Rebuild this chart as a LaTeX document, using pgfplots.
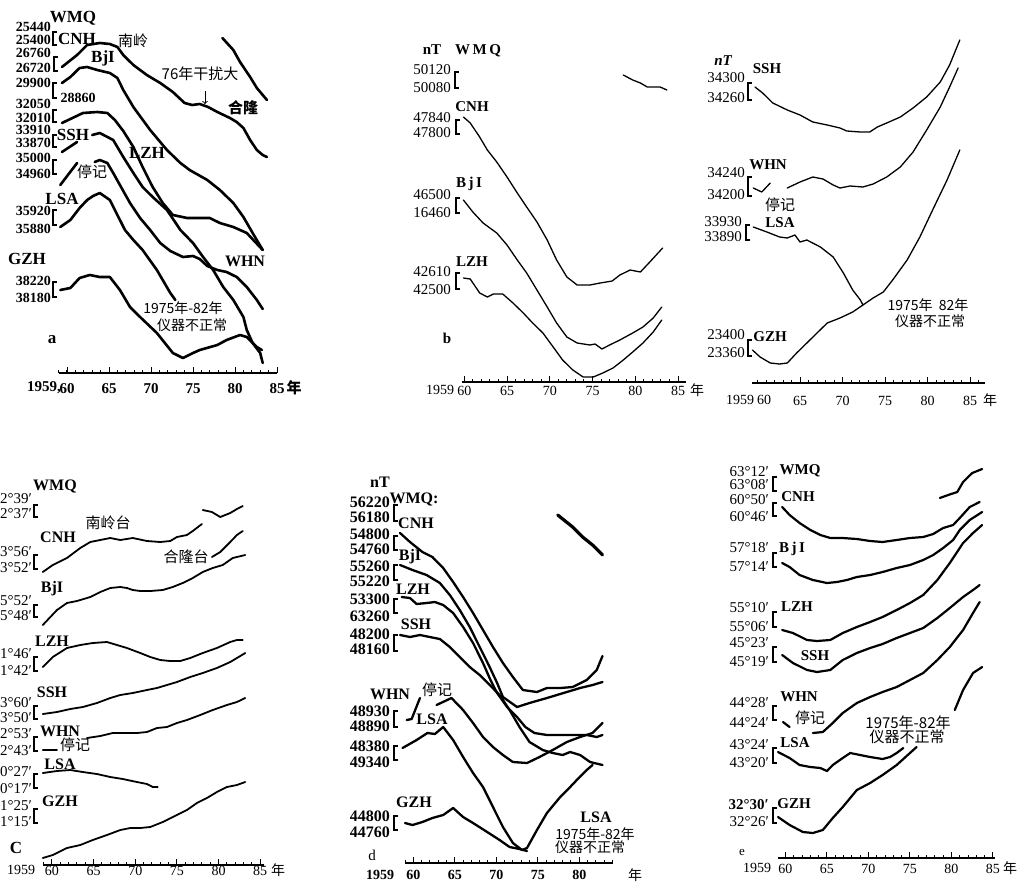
\documentclass[border=0pt]{standalone}
\usepackage{pgfplots}
\pgfplotsset{compat=1.18}
\usepackage{fontspec}
\setmainfont{Liberation Serif}
\newfontfamily\cjk{Noto Sans CJK SC}
\newcommand\fs[1]{\fontsize{#1}{#1}\selectfont}
% bracket beside a pair of scale values
\newcommand\B[3]{\draw[line width=1.1pt] (#1+3.5,#2) -- (#1,#2) -- (#1,#3) -- (#1+3.5,#3);}
\newcommand\V[3]{\node[anchor=east] at (#1,#2) {#3};}

% every panel: x = year, y = position of the curve in the panel (arbitrary offset units, downwards)
\pgfplotsset{
  panel/.style={
    scale only axis, clip=false, enlargelimits=false,
    axis x line*=bottom, axis y line=none,
    y filter/.expression={-y},
    xtick align=inside,
    major tick length=6pt, minor tick length=3.5pt,
    xtick={1965,1970,1975,1980,1985},
    xticklabels={65,70,75,80,85},
    minor xtick={1959,1960,...,1986},
    axis line style={line width=1.2pt},
    every tick/.append style={line width=1pt, black},
    xticklabel style={font=\fs{14}, inner sep=1pt},
    cycle list={{black, solid}},
    every axis plot/.append style={no marks, line join=round, line cap=round},
  },
}

\begin{document}
\begin{tikzpicture}
\useasboundingbox (0,0) rectangle (1024pt,-886pt);

%% ---------------- panel a ----------------
\begin{axis}[panel, at={(58.6pt,-373pt)}, width=218.4pt, height=373pt,
  xmin=1959, xmax=1985, ymin=-373, ymax=0,
  xtick={1960,1965,...,1985}, xticklabels={60,65,70,75,80,85},
  xticklabel style={font=\fs{15}\bfseries, yshift=-9pt},
  every axis plot/.append style={line width=2.6pt}]
\addplot coordinates {(1978.5,38)(1979.8,50)(1980.6,62)(1981.8,77)(1982.6,88)(1983.8,100)};
\addplot coordinates {(1959.4,67)(1961.2,55)(1962.4,45)(1963.9,43)(1965.1,44)(1966.0,47)(1966.7,55)(1967.9,65)(1969.5,75)(1971.1,83)(1972.6,92)(1974.0,103)(1974.9,105)(1975.8,104)(1976.8,107)(1977.9,112)(1979.4,118)(1980.2,122)(1981.0,128)(1981.8,140)(1982.6,150)(1983.3,155)(1983.8,157)};
\addplot coordinates {(1959.4,83)(1960.4,77)(1961.5,68)(1962.4,67)(1963.6,70)(1965.1,73)(1966.0,78)(1966.7,90)(1967.9,107)(1969.9,130)(1971.9,150)(1973.5,163)(1974.6,170)(1976.7,180)(1978.2,190)(1979.8,203)(1981.0,217)(1982.1,233)(1983.3,250)};
\addplot coordinates {(1959.4,123)(1961.9,113)(1963.6,112)(1964.8,113)(1965.7,120)(1966.7,131)(1967.9,147)(1969.0,167)(1970.2,187)(1971.4,203)(1972.6,215)(1974.3,218)(1977.0,218)(1978.2,223)(1979.8,227)(1981.4,233)(1983.3,250)};
\addplot coordinates {(1959.4,152)(1961.2,142)};
\addplot coordinates {(1963.0,135)(1963.9,133)(1965.5,140)(1966.7,157)(1967.9,173)(1969.0,187)(1970.2,197)(1971.9,210)(1973.5,230)(1975.0,243)(1976.2,257)(1977.4,270)(1978.6,287)(1979.8,300)(1981.0,317)(1981.4,330)(1982.1,343)(1983.0,353)(1983.3,363)};
\addplot coordinates {(1959.2,185)(1961.2,163)};
\addplot coordinates {(1963.3,162)(1963.9,160)(1964.8,163)(1965.5,173)(1966.3,185)(1967.5,203)(1968.7,218)(1969.9,230)(1971.1,243)(1972.3,251)(1973.8,257)(1975.0,256)(1975.8,259)(1976.7,266)(1977.9,270)(1979.0,272)(1980.2,277)(1981.4,287)(1982.6,300)(1983.3,309)};
\addplot coordinates {(1959.2,227)(1960.4,220)(1961.5,208)(1962.4,200)(1963.1,196)(1963.9,193)(1965.1,200)(1966.3,220)(1966.9,230)(1967.9,240)(1969.0,250)(1970.7,270)(1972.3,293)(1972.9,300)};
\addplot coordinates {(1959.2,290)(1960.4,288)(1961.5,278)(1962.7,275)(1963.9,277)(1965.1,277)(1966.3,290)(1967.5,307)(1968.7,317)(1970.7,333)(1972.6,353)(1973.8,358)(1975.0,353)(1975.8,350)(1977.9,345)(1979.0,340)(1980.6,335)(1981.4,337)(1982.6,347)(1983.2,350)};
\end{axis}

%% ---------------- panel b, left ----------------
\begin{axis}[panel, at={(461.7pt,-382pt)}, width=224pt, height=382pt,
  xmin=1959.7, xmax=1985.9, ymin=-382, ymax=0,
  xtick={1960,1965,...,1985}, xticklabels={60,65,70,75,80,85},
  xticklabel style={yshift=-3pt},
  every axis plot/.append style={line width=1.3pt}]
\addplot coordinates {(1978.6,75)(1979.7,80)(1980.6,83)(1981.4,87)(1982.1,87)(1982.9,87)(1983.7,90)};
\addplot coordinates {(1959.9,117)(1960.7,123)(1961.8,137)(1962.7,150)(1963.8,162)(1965.0,177)(1966.2,193)(1967.3,207)(1968.5,222)(1969.7,240)(1970.8,260)(1972.0,277)(1973.2,285)(1974.7,285)(1975.9,283)(1977.3,281)(1978.2,275)(1979.4,270)(1980.6,272)(1981.7,262)(1983.2,248)};
\addplot coordinates {(1959.9,200)(1961.0,212)(1962.2,223)(1963.8,233)(1965.0,245)(1966.2,260)(1967.3,273)(1968.5,290)(1969.7,307)(1970.8,323)(1972.0,337)(1973.2,343)(1974.7,345)(1975.3,344)(1976.1,349)(1977.0,345)(1978.2,340)(1979.7,333)(1980.9,327)(1982.1,318)(1983.1,307)};
\addplot coordinates {(1959.9,278)(1960.7,279)(1961.8,293)(1962.7,297)(1963.4,294)(1964.5,294)(1965.7,303)(1966.9,313)(1968.0,323)(1969.2,333)(1970.4,347)(1971.5,360)(1972.7,370)(1973.9,377)(1975.1,377)(1976.2,373)(1977.4,368)(1978.6,360)(1979.7,352)(1980.9,343)(1982.1,332)(1983.1,320)};
\end{axis}

%% ---------------- panel b, right ----------------
\begin{axis}[panel, at={(752pt,-383pt)}, width=233.3pt, height=383pt,
  xmin=1959.35, xmax=1986.8, ymin=-383, ymax=0,
  xticklabel style={yshift=-12pt},
  every axis plot/.append style={line width=1.3pt}]
\addplot coordinates {(1959.7,87)(1960.6,93)(1961.8,103)(1963.5,110)(1965.0,115)(1966.5,122)(1968.2,125)(1969.7,128)(1970.5,131)(1972.1,132)(1973.2,132)(1974.1,127)(1975.2,123)(1976.8,117)(1978.3,108)(1979.9,97)(1981.5,82)(1982.6,65)(1983.8,40)};
\addplot coordinates {(1959.5,188)(1960.5,192)(1961.5,183)};
\addplot coordinates {(1963.5,188)(1965.0,182)(1966.5,177)(1967.7,179)(1968.9,185)(1969.7,188)(1970.9,186)(1972.4,187)(1973.6,184)(1975.2,177)(1976.8,167)(1978.3,152)(1979.9,130)(1981.5,107)(1982.6,87)(1983.6,68)};
\addplot coordinates {(1959.5,227)(1961.1,232)(1962.6,237)(1963.5,238)(1964.4,235)(1965.0,242)(1965.8,240)(1967.4,247)(1968.9,257)(1970.1,273)(1971.2,290)(1972.1,300)(1972.4,305)};
\addplot coordinates {(1959.4,350)(1960.3,357)(1961.5,363)(1962.6,364)(1963.5,363)(1964.6,353)(1965.8,343)(1967.0,333)(1968.2,323)(1969.7,318)(1971.2,312)(1972.4,305)(1973.6,298)(1974.8,292)(1975.9,280)(1977.6,260)(1979.1,237)(1980.6,210)(1982.3,180)(1983.8,150)};
\end{axis}

%% ---------------- panel c ----------------
\begin{axis}[panel, at={(42.8pt,-865pt)}, width=221.6pt, height=435pt,
  xmin=1958.9, xmax=1985.5, ymin=-865, ymax=-430,
  xtick={1960,1965,...,1985}, xticklabels={60,65,70,75,80,85},
  every axis plot/.append style={line width=1.8pt}]
\addplot coordinates {(1978.1,510)(1979.2,512)(1980.2,517)(1981.4,513)(1982.2,509)(1982.9,506)};
\addplot coordinates {(1958.9,572)(1960.1,565)(1961.8,558)(1963.4,548)(1964.6,542)(1965.8,540)(1967.0,538)(1968.2,540)(1969.7,538)(1971.4,541)(1973.0,542)(1974.2,541)(1975.0,537)(1976.2,535)(1976.9,531)(1978.0,524)};
\addplot coordinates {(1979.2,557)(1980.2,552)(1981.4,542)(1982.2,535)(1982.9,531)};
\addplot coordinates {(1958.9,625)(1960.6,610)(1961.8,603)(1963.0,601)(1964.6,597)(1965.8,592)(1967.0,588)(1968.2,587)(1969.0,588)(1969.7,590)(1970.6,591)(1971.8,591)(1973.3,590)(1974.5,587)(1975.7,583)(1976.9,578)(1978.1,572)(1979.3,568)(1980.5,565)(1981.7,558)(1983.2,555)};
\addplot coordinates {(1958.9,667)(1960.1,657)(1961.8,648)(1963.4,645)(1964.9,643)(1966.6,642)(1967.8,645)(1969.0,648)(1970.6,653)(1971.8,657)(1973.0,660)(1974.2,661)(1975.4,661)(1976.6,658)(1978.1,653)(1979.8,648)(1981.4,642)(1982.2,640)(1982.9,640)};
\addplot coordinates {(1958.9,714)(1960.6,712)(1962.2,709)(1963.7,707)(1965.4,703)(1967.0,698)(1968.2,695)(1969.7,693)(1971.4,690)(1972.6,688)(1973.8,685)(1975.0,682)(1976.6,677)(1978.1,673)(1979.8,668)(1981.4,662)(1983.2,653)};
\addplot coordinates {(1958.9,750)(1960.6,750)};
\addplot coordinates {(1964.2,738)(1965.8,736)(1967.3,733)(1969.0,733)(1970.2,733)(1971.4,732)(1972.6,728)(1973.8,727)(1975.0,723)(1976.2,720)(1977.8,715)(1979.3,710)(1981.0,705)(1982.2,702)(1983.2,698)};
\addplot coordinates {(1958.9,773)(1960.6,771)(1962.2,770)(1963.7,772)(1965.4,774)(1967.0,777)(1968.5,779)(1970.2,782)(1971.4,784)(1972.1,787)(1972.7,787)};
\addplot coordinates {(1958.9,858)(1960.1,855)(1961.8,848)(1963.4,845)(1964.9,840)(1966.6,835)(1968.2,830)(1969.4,828)(1970.6,828)(1971.8,827)(1973.3,822)(1975.0,815)(1976.2,810)(1977.4,803)(1978.6,798)(1979.8,792)(1981.0,787)(1982.2,785)(1983.2,782)};
\end{axis}

%% ---------------- panel d ----------------
\begin{axis}[panel, at={(405pt,-863pt)}, width=208.3pt, height=433pt,
  xmin=1959, xmax=1984.1, ymin=-863, ymax=-430,
  xtick={1960,1965,...,1985}, xticklabels={60,65,70,75,80,85},
  xticklabel style={font=\fs{14}\bfseries, yshift=-6pt},
  every axis plot/.append style={line width=2.3pt}]
\addplot[line width=3.2pt] coordinates {(1977.4,515)(1979.2,527)(1980.4,537)(1981.6,545)(1982.8,555)};
\addplot coordinates {(1958.4,533)(1959.6,542)(1961.1,552)(1962.3,557)(1963.6,568)(1964.8,582)(1966.0,597)(1967.2,613)(1968.4,630)(1969.6,647)(1970.8,663)(1972.0,677)(1973.2,690)(1974.9,692)(1976.1,688)(1977.7,688)(1979.2,687)(1980.9,680)(1982.1,670)(1982.8,656)};
\addplot coordinates {(1958.4,565)(1959.9,570)(1961.6,575)(1963.2,583)(1964.4,595)(1965.6,610)(1966.8,627)(1968.0,647)(1969.2,667)(1970.1,683)(1970.8,697)(1972.5,707)(1974.0,703)(1976.1,698)(1978.5,692)(1980.1,688)(1981.6,685)(1982.8,682)};
\addplot coordinates {(1958.6,597)(1959.6,598)(1960.4,604)(1961.6,603)(1962.6,602)(1963.6,605)(1964.8,613)(1966.0,627)(1967.2,643)(1968.4,663)(1969.3,680)(1970.1,693)(1971.3,707)(1972.5,717)(1973.5,727)(1974.6,733)(1976.1,735)(1977.7,735)(1979.2,735)(1980.9,735)(1982.1,737)(1982.8,735)};
\addplot coordinates {(1958.4,635)(1959.6,637)(1960.8,635)(1962.0,637)(1963.2,639)(1964.4,647)(1965.6,657)(1966.8,667)(1968.0,675)(1969.2,685)(1970.4,695)(1971.6,710)(1972.8,727)(1974.0,742)(1975.6,750)(1976.8,753)(1978.0,755)(1978.9,752)(1980.1,755)(1981.3,762)(1982.8,765)};
\addplot coordinates {(1959.2,720)(1959.8,719)(1960.8,698)};
\addplot coordinates {(1962.8,705)(1964.6,698)(1966.0,710)(1967.2,723)(1968.4,737)(1969.6,747)(1970.8,755)(1972.0,762)(1973.7,763)(1975.2,757)(1976.8,750)(1978.5,742)(1980.1,737)(1981.6,733)(1982.8,723)};
\addplot coordinates {(1958.7,748)(1960.4,740)(1961.7,733)(1962.6,734)(1963.6,727)(1964.8,740)(1966.0,757)(1967.2,773)(1968.4,787)(1969.6,807)(1970.8,827)(1972.0,843)(1973.1,850)(1973.7,848)(1974.9,830)(1976.1,813)(1977.7,797)(1978.9,787)(1979.7,780)(1980.9,770)(1981.6,765)};
\addplot coordinates {(1959.0,823)(1959.9,825)(1961.1,822)(1962.3,818)(1963.6,815)(1964.8,808)(1966.0,817)(1967.2,823)(1968.9,832)(1970.4,840)(1971.6,847)(1972.8,849)(1973.7,851)};
\end{axis}

%% ---------------- panel e ----------------
\begin{axis}[panel, at={(778pt,-858pt)}, width=216.6pt, height=428pt,
  xmin=1959.1, xmax=1985.2, ymin=-858, ymax=-430,
  xtick={1960,1965,...,1985}, xticklabels={60,65,70,75,80,85},
  xticklabel style={yshift=-5pt},
  every axis plot/.append style={line width=2.2pt}]
\addplot coordinates {(1978.6,498)(1979.6,495)(1980.7,492)(1981.4,482)(1982.5,473)(1983.7,469)};
\addplot coordinates {(1959.6,507)(1960.5,515)(1961.7,523)(1963.0,530)(1964.2,535)(1965.4,538)(1966.9,538)(1968.6,539)(1970.2,541)(1971.7,542)(1973.4,540)(1975.0,538)(1976.6,537)(1977.8,534)(1979.0,528)(1980.2,525)(1981.0,518)(1982.2,507)(1983.4,502)};
\addplot coordinates {(1959.6,563)(1960.5,567)(1961.7,575)(1963.3,580)(1965.0,583)(1966.2,582)(1967.4,580)(1968.6,577)(1970.2,575)(1971.7,572)(1973.4,568)(1975.0,565)(1976.6,560)(1977.8,555)(1979.0,548)(1980.2,540)(1981.0,530)(1982.2,520)(1983.7,512)};
\addplot coordinates {(1959.6,630)(1960.9,633)(1962.6,640)(1963.8,641)(1965.4,640)(1966.9,633)(1968.6,627)(1970.2,622)(1971.7,617)(1973.4,610)(1975.0,603)(1976.6,595)(1978.3,580)(1979.8,563)(1981.4,543)(1982.6,533)(1983.7,525)};
\addplot coordinates {(1959.6,655)(1960.9,663)(1962.6,670)(1963.8,672)(1965.4,670)(1966.9,660)(1968.6,653)(1970.2,648)(1971.7,644)(1973.4,638)(1975.0,633)(1976.6,628)(1978.3,618)(1979.8,608)(1981.4,597)(1982.6,590)(1983.4,585)};
\addplot coordinates {(1959.7,722)(1960.5,727)};
\addplot coordinates {(1963.3,733)(1964.5,732)(1965.7,723)(1966.9,713)(1968.6,703)(1970.2,697)(1971.7,692)(1973.4,687)(1975.0,680)(1976.6,673)(1978.3,660)(1979.8,647)(1981.4,630)(1982.6,613)(1983.4,602)};
\addplot coordinates {(1959.1,752)(1960.5,758)(1961.7,765)(1963.0,767)(1964.2,768)(1965.0,771)(1965.7,765)(1966.9,758)(1967.8,753)(1969.0,755)(1970.2,757)(1971.7,759)(1972.6,757)(1973.4,753)(1974.2,748)};
\addplot coordinates {(1980.4,710)(1981.4,690)(1982.6,673)(1983.7,667)};
\addplot coordinates {(1959.1,817)(1960.5,825)(1962.1,832)(1963.3,833)(1964.5,830)(1965.7,818)(1966.9,807)(1968.6,790)(1970.2,783)(1971.7,775)(1973.4,765)(1975.0,753)(1975.8,747)};
\end{axis}

%% ---------------- texts ----------------
\begin{scope}[x=1pt,y=-1pt]
% panel a
\begin{scope}[every node/.style={font=\fs{14}\bfseries, inner sep=0pt}]
\V{51}{27}{25440}\V{51}{40}{25400}\V{51}{53}{26760}\V{51}{68}{26720}
\V{51}{83}{29900}\V{51}{104}{32050}\V{51}{118}{32010}\V{51}{130}{33910}
\V{51}{143}{33870}\V{51}{158}{35000}\V{51}{174}{34960}\V{51}{211}{35920}
\V{51}{229}{35880}\V{51}{281}{38220}\V{51}{298}{38180}
\node[font=\fs{14}\bfseries] at (78,98) {28860};
\node[font=\fs{17}\bfseries] at (73,18) {WMQ};
\node[font=\fs{17}\bfseries] at (77,39) {CNH};
\node[font=\fs{17}\bfseries] at (103,58) {BjI};
\node[font=\fs{17}\bfseries] at (73,135) {SSH};
\node[font=\fs{17}\bfseries] at (147,153) {LZH};
\node[font=\fs{17}\bfseries] at (62,199) {LSA};
\node[font=\fs{17}\bfseries] at (27,259) {GZH};
\node[font=\fs{16}\bfseries] at (245,261) {WHN};
\node[font=\fs{15}\cjk] at (133,41) {南岭};
\node[font=\fs{15}\cjk] at (200,74) {76年干扰大};
\node[font=\fs{15}\cjk\bfseries] at (243,108) {合隆};
\node[font=\fs{15}\cjk] at (92,172) {停记};
\node[font=\fs{14}\cjk] at (183,308) {1975年-82年};
\node[font=\fs{14}\cjk] at (192,325) {仪器不正常};
\node[font=\fs{17}\bfseries] at (52,340) {a};
\node[anchor=east,font=\fs{15}\bfseries] at (61,388) {1959,};
\node[font=\fs{15}\cjk\bfseries] at (294,388) {年};
\end{scope}
\B{53}{32}{45}\B{54}{57}{71}\B{53}{83}{98}\B{53}{110}{122}
\B{53}{135}{147}\B{53}{160}{174}\B{53}{210}{225}\B{53}{282}{297}
\draw[->,line width=1pt] (205,91) -- (205,104);

% panel b left
\begin{scope}[every node/.style={font=\fs{15}, inner sep=0pt}]
\V{451}{70}{50120}\V{451}{88}{50080}\V{451}{118}{47840}\V{451}{133}{47800}
\V{451}{195}{46500}\V{451}{213}{16460}\V{451}{272}{42610}\V{451}{290}{42500}
\node[font=\fs{15}\bfseries] at (432,50) {nT};
\node[font=\fs{15}\bfseries] at (478,51) {W\,M\,Q};
\node[font=\fs{15}\bfseries] at (472,107) {CNH};
\node[font=\fs{15}\bfseries] at (469,184) {B\,j\,I};
\node[font=\fs{15}\bfseries] at (472,262) {LZH};
\node[font=\fs{15}\bfseries] at (447,338) {b};
\node[font=\fs{14}] at (440,390) {1959};
\node[font=\fs{14}\cjk] at (697,390) {年};
% panel b right
\V{745}{78}{34300}\V{745}{98}{34260}\V{745}{173}{34240}\V{745}{195}{34200}
\V{742}{222}{33930}\V{742}{237}{33890}\V{745}{335}{23400}\V{745}{353}{23360}
\node[font=\fs{15}\bfseries\itshape] at (723,61) {nT};
\node[font=\fs{15}\bfseries] at (767,69) {SSH};
\node[font=\fs{15}\bfseries] at (768,165) {WHN};
\node[font=\fs{15}\cjk] at (780,205) {停记};
\node[font=\fs{15}\bfseries] at (780,223) {LSA};
\node[font=\fs{15}\bfseries] at (770,337) {GZH};
\node[font=\fs{14}\cjk] at (928,305) {1975年\ \ 82年};
\node[font=\fs{14}\cjk] at (930,321) {仪器不正常};
\node[font=\fs{14}] at (740,400) {1959};
\node[font=\fs{14}] at (764,400) {60};
\node[font=\fs{14}\cjk] at (990,400) {年};
\end{scope}
\B{455}{72}{88}\B{456}{120}{134}\B{456}{198}{213}\B{456}{273}{289}
\B{748}{83}{100}\B{748}{177}{196}\B{746}{225}{240}\B{748}{340}{356}

% panel c
\begin{scope}[every node/.style={font=\fs{15}, inner sep=0pt}]
\V{32}{499}{2°39′}\V{32}{514}{2°37′}\V{32}{552}{3°56′}\V{32}{568}{3°52′}
\V{32}{601}{5°52′}\V{32}{616}{5°48′}\V{32}{654}{1°46′}\V{32}{671}{1°42′}
\V{32}{703}{3°60′}\V{32}{718}{3°50′}\V{32}{734}{2°53′}\V{32}{751}{2°43′}
\V{32}{772}{0°27′}\V{32}{789}{0°17′}\V{32}{806}{1°25′}\V{32}{822}{1°15′}
\node[font=\fs{16}\bfseries] at (55,486) {WMQ};
\node[font=\fs{16}\bfseries] at (58,537) {CNH};
\node[font=\fs{16}\bfseries] at (52,589) {BjI};
\node[font=\fs{16}\bfseries] at (52,641) {LZH};
\node[font=\fs{16}\bfseries] at (52,692) {SSH};
\node[font=\fs{16}\bfseries] at (60,731) {WHN};
\node[font=\fs{16}\bfseries] at (60,764) {LSA};
\node[font=\fs{16}\bfseries] at (60,801) {GZH};
\node[font=\fs{15}\cjk] at (108,523) {南岭台};
\node[font=\fs{15}\cjk] at (186,557) {合隆台};
\node[font=\fs{15}\cjk] at (75,745) {停记};
\node[font=\fs{17}\bfseries] at (16,848) {C};
\node[font=\fs{14}] at (21,870) {1959};
\node[font=\fs{14}\cjk] at (278,870) {年};
\end{scope}
\B{34}{505}{517}\B{34}{555}{569}\B{34}{605}{617}\B{34}{657}{671}
\B{34}{706}{719}\B{34}{737}{751}\B{34}{774}{788}\B{34}{809}{823}

% panel d
\begin{scope}[every node/.style={font=\fs{16}\bfseries, inner sep=0pt}]
\V{390}{502}{56220}\V{390}{517}{56180}\V{390}{534}{54800}\V{390}{549}{54760}
\V{390}{566}{55260}\V{390}{581}{55220}\V{390}{599}{53300}\V{390}{616}{63260}
\V{390}{634}{48200}\V{390}{649}{48160}\V{390}{711}{48930}\V{390}{726}{48890}
\V{390}{746}{48380}\V{390}{762}{49340}\V{390}{816}{44800}\V{390}{832}{44760}
\node at (380,482) {nT};
\node at (414,499) {WMQ:};
\node at (416,523) {CNH};
\node at (410,557) {BjI};
\node at (413,589) {LZH};
\node at (416,624) {SSH};
\node at (390,694) {WHN};
\node at (432,719) {LSA};
\node at (414,802) {GZH};
\node at (596,817) {LSA};
\node[font=\fs{15}\cjk] at (437,690) {停记};
\node[font=\fs{14}\cjk] at (595,834) {1975年-82年};
\node[font=\fs{14}\cjk] at (590,847) {仪器不正常};
\node[font=\fs{15}] at (372,855) {d};
\node[font=\fs{14}\bfseries] at (380,875) {1959};
\node[font=\fs{14}\cjk] at (635,875) {年};
\end{scope}
\B{394}{505}{521}\B{394}{536}{550}\B{394}{565}{580}\B{394}{599}{613}
\B{394}{635}{651}\B{394}{711}{727}\B{394}{746}{760}\B{394}{816}{830}

% panel e
\begin{scope}[every node/.style={font=\fs{15}, inner sep=0pt}]
\V{769}{472}{63°12′}\V{769}{485}{63°08′}\V{769}{500}{60°50′}\V{769}{517}{60°46′}
\V{769}{548}{57°18′}\V{769}{567}{57°14′}\V{769}{608}{55°10′}\V{769}{627}{55°06′}
\V{769}{643}{45°23′}\V{769}{662}{45°19′}\V{769}{703}{44°28′}\V{769}{722}{44°24′}
\V{769}{745}{43°24′}\V{769}{763}{43°20′}\node[anchor=east,font=\fs{15}\bfseries] at (769,805) {32°30′};\V{769}{822}{32°26′}
\node[font=\fs{15}\bfseries] at (800,471) {WMQ};
\node[font=\fs{15}\bfseries] at (798,497) {CNH};
\node[font=\fs{15}\bfseries] at (792,549) {B\,j\,I};
\node[font=\fs{15}\bfseries] at (797,607) {LZH};
\node[font=\fs{15}\bfseries] at (815,656) {SSH};
\node[font=\fs{15}\bfseries] at (799,697) {WHN};
\node[font=\fs{15}\bfseries] at (795,743) {LSA};
\node[font=\fs{15}\bfseries] at (794,804) {GZH};
\node[font=\fs{15}\cjk] at (810,718) {停记};
\node[font=\fs{15}\cjk] at (908,723) {1975年-82年};
\node[font=\fs{15}\cjk] at (907,737) {仪器不正常};
\node[font=\fs{13}] at (742,852) {e};
\node[font=\fs{14}] at (757,868) {1959};
\node[font=\fs{14}\cjk] at (1010,868) {年};
\end{scope}
\B{773}{477}{491}\B{773}{503}{516}\B{773}{553}{567}\B{773}{612}{627}
\B{773}{647}{662}\B{773}{706}{720}\B{773}{748}{763}\B{773}{808}{823}
\end{scope}
\end{tikzpicture}
\end{document}
